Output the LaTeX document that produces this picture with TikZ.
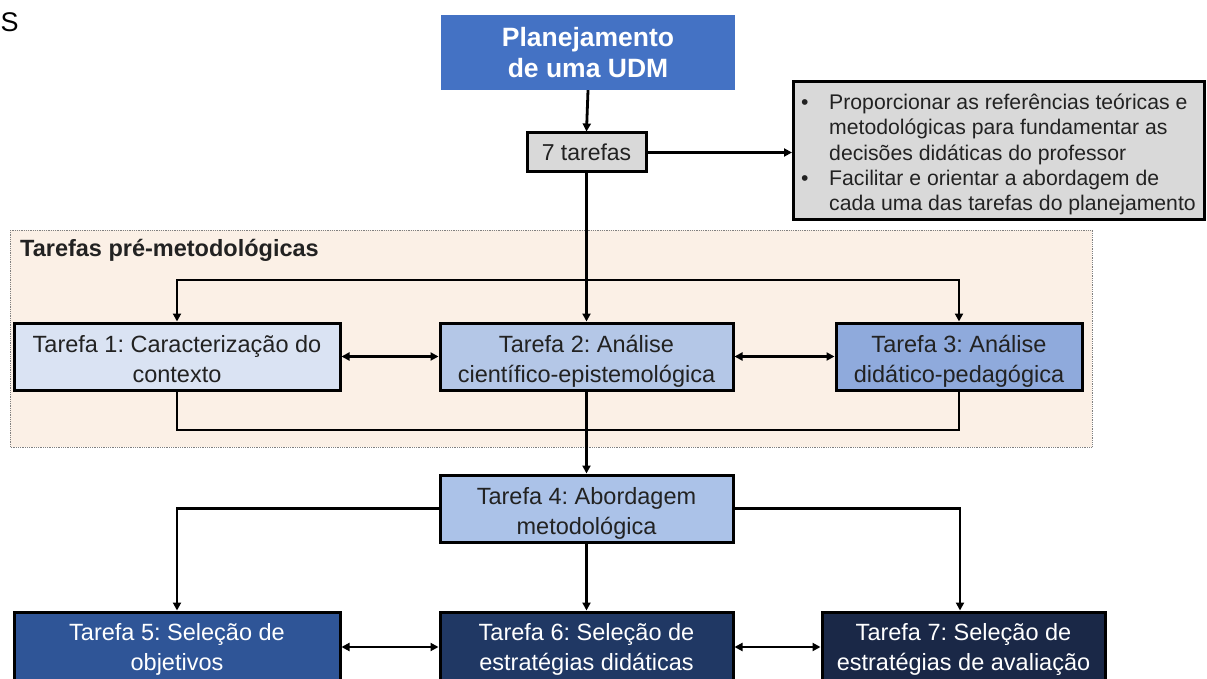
\documentclass[tikz,border=0pt]{standalone}
\usepackage{fontspec}
\setmainfont{Liberation Sans}
\usetikzlibrary{arrows.meta}
\definecolor{planblue}{HTML}{4472C4}
\definecolor{lgray}{HTML}{D9D9D9}
\definecolor{peach}{HTML}{FBF0E6}
\definecolor{cA}{HTML}{DAE3F3}
\definecolor{cB}{HTML}{B4C7E7}
\definecolor{cC}{HTML}{8FAADC}
\definecolor{cD}{HTML}{ABC2E8}
\definecolor{cE}{HTML}{2F5597}
\definecolor{cF}{HTML}{203864}
\definecolor{cG}{HTML}{1A2847}
\definecolor{txt}{HTML}{222222}
\frenchspacing
\newcommand\lighttop{\rule{0pt}{28pt}}
\newcommand\lightbot{\rule[-7pt]{0pt}{7pt}}
\newcommand\darktop{\rule{0pt}{24pt}}
\newcommand\darkbot{\rule[-7pt]{0pt}{7pt}}
\tikzset{
  taskbox/.style={draw=black, line width=3pt, minimum height=67pt, align=center, inner sep=0pt, text=txt,
    font=\fontsize{23.5}{30}\selectfont},
  darkbox/.style={draw=black, line width=3pt, minimum height=70pt, align=center, inner sep=0pt, text=white,
    font=\fontsize{23.5}{30}\selectfont},
  conn/.style={line width=2.8pt, -{Triangle[length=8pt,width=8pt]}},
  dconn/.style={line width=2.8pt, {Triangle[length=8pt,width=8pt]}-{Triangle[length=8pt,width=8pt]}},
  plain/.style={line width=2.8pt},
}
\begin{document}
\begin{tikzpicture}[x=1pt,y=-1pt]
\useasboundingbox (0,0) rectangle (1207,679);
\clip (0,0) rectangle (1207,679);
\fill[white] (0,0) rectangle (1207,679);
\node[anchor=west, inner sep=0pt, font=\fontsize{27}{30}\selectfont] (sletter) at (0.5,22) {S};
% region
\draw[gray, densely dotted, fill=peach, line width=0.8pt] (10,230) rectangle (1092,447);
\node[anchor=west, inner sep=0pt, font=\fontsize{23.5}{27}\selectfont\bfseries, text=txt] (regtitle) at (20,250) {Tarefas pré-metodológicas};
% top nodes
\node[fill=planblue, text=white, minimum width=294pt, minimum height=75pt, align=center, inner sep=0pt,
  font=\fontsize{26.5}{31}\selectfont\bfseries] (plan) at (588,52.5) {Planejamento\\de uma UDM};
\node[draw=black, fill=lgray, line width=3pt, minimum width=119pt, minimum height=39pt, inner sep=0pt, text=txt,
  font=\fontsize{23}{26}\selectfont] (sete) at (586.5,152.5) {7 tarefas};
\node[draw=black, fill=lgray, line width=3pt, minimum width=411pt, minimum height=138pt, inner sep=0pt, text=txt,
  font=\fontsize{21.2}{25.3}\selectfont, anchor=west] (bul) at (792,151)
  {\hspace*{-1pt}\begin{tabular}{@{}p{28pt}@{}l@{}}
  \rule{0pt}{25.7pt}\textbullet & Proporcionar as referências teóricas e\\
   & metodológicas para fundamentar as\\
   & decisões didáticas do professor\\
  \textbullet & Facilitar e orientar a abordagem de\\
   & cada uma das tarefas do planejamento
  \end{tabular}};
% task nodes
\node[taskbox, fill=cA, minimum width=326pt] (t1) at (177,356.5) {\lighttop Tarefa 1: Caracterização do\\contexto\lightbot};
\node[taskbox, fill=cB, minimum width=293pt] (t2) at (586.5,356.5) {\lighttop Tarefa 2: Análise\\científico-epistemológica\lightbot};
\node[taskbox, fill=cC, minimum width=246pt] (t3) at (959,356.5) {\lighttop Tarefa 3: Análise\\didático-pedagógica\lightbot};
\node[taskbox, fill=cD, minimum width=293pt] (t4) at (586.5,508.5) {\lighttop Tarefa 4: Abordagem\\metodológica\lightbot};
\node[darkbox, fill=cE, minimum width=326pt] (t5) at (177,647) {\darktop Tarefa 5: Seleção de\\objetivos\darkbot};
\node[darkbox, fill=cF, minimum width=293pt] (t6) at (586.5,647) {\darktop Tarefa 6: Seleção de\\estratégias didáticas\darkbot};
\node[darkbox, fill=cG, minimum width=283pt] (t7) at (963.5,647) {\darktop Tarefa 7: Seleção de\\estratégias de avaliação\darkbot};
% connectors
\coordinate (jt) at (586.5,280);
\coordinate (jb) at (586.5,430);
\draw[conn] (plan.south) -- (sete.north);
\draw[conn] (sete.east) -- (sete.east -| bul.west);
\draw[conn] (sete.south) -- (t2.north);
\draw[conn] (jt) -| (t1.north);
\draw[conn] (jt) -| (t3.north);
\draw[plain] (t1.south) |- (jb);
\draw[plain] (t3.south) |- (jb);
\draw[conn] (t2.south) -- (t4.north);
\draw[dconn] (t1.east) -- (t2.west);
\draw[dconn] (t2.east) -- (t3.west);
\draw[conn] (t4.west) -| (t5.north);
\draw[conn] (t4.east) -| ([xshift=-3.5pt]t7.north);
\draw[conn] (t4.south) -- (t6.north);
\draw[dconn] (t5.east) -- (t5.east -| t6.west);
\draw[dconn] (t6.east) -- (t6.east -| t7.west);
\end{tikzpicture}
\end{document}
